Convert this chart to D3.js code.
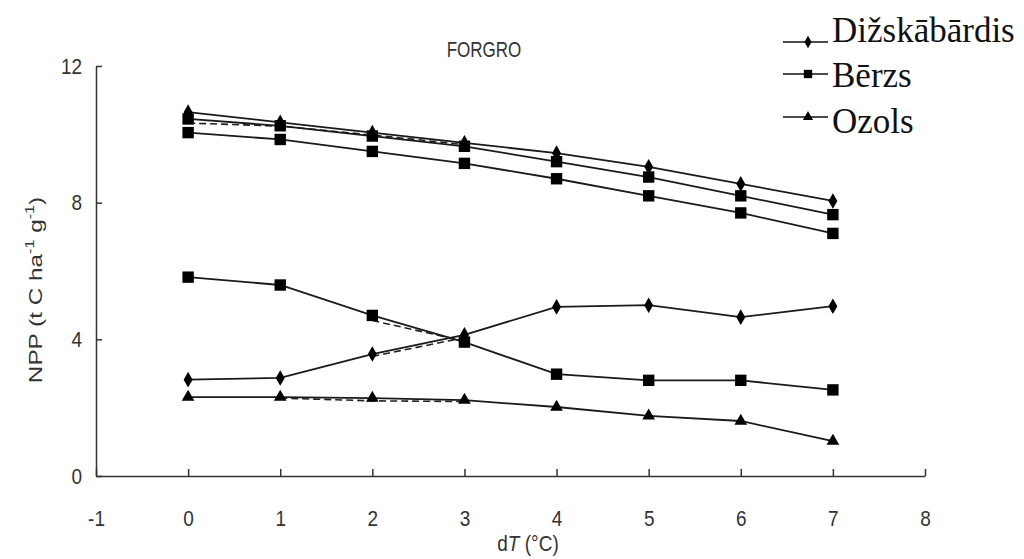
<!DOCTYPE html>
<html>
<head>
<meta charset="utf-8">
<script src="https://cdn.jsdelivr.net/npm/d3@7"></script>
<style>
  body { margin: 0; background: #fff; }
  svg { display: block; }
  .axis path, .axis line { stroke: #333; stroke-width: 1.5; }
  .axis text { font-family: "Liberation Sans", Arial, sans-serif; font-size: 19px; fill: #333; }
</style>
</head>
<body>
<div id="chart-container"></div>
<script>
// dT values (°C)
const dT = [0, 1, 2, 3, 4, 5, 6, 7];
const xTicks = [-1, 0, 1, 2, 3, 4, 5, 6, 7, 8];
const yTicks = [0, 4, 8, 12];

// series (NPP, t C ha-1 g-1)
const diskUpper = [10.65, 10.35, 10.05, 9.75, 9.45, 9.05, 8.55, 8.05];
const berzsUpperA = [10.45, 10.25, 9.95, 9.65, 9.2, 8.75, 8.2, 7.65];
const berzsUpperB = [10.05, 9.85, 9.5, 9.15, 8.7, 8.2, 7.7, 7.1];
const berzsLower = [5.82, 5.59, 4.7, 3.92, 2.98, 2.8, 2.8, 2.52];
const diskLower = [2.82, 2.87, 3.57, 4.13, 4.95, 5.0, 4.65, 4.97];
const ozols = [2.31, 2.31, 2.28, 2.22, 2.02, 1.76, 1.61, 1.02];

// faint dashed duplicates visible under some segments
const dashedTop = { x: [0, 1, 2, 3], y: [10.33, 10.24, 9.98, 9.7] };
const dashedBerzs = { x: [2, 3], y: [4.55, 3.95] };
const dashedDisk = { x: [2, 3], y: [3.5, 4.05] };
const dashedOzols = { x: [1, 2, 3], y: [2.28, 2.2, 2.18] };

const legendNames = ["Dižskābārdis", "Bērzs", "Ozols"];

const width = 1024, height = 559;
const svg = d3.select("#chart-container").append("svg")
  .attr("width", width).attr("height", height);

const x = d3.scaleLinear().domain([-1, 8]).range([96, 925]);
const y = d3.scaleLinear().domain([0, 12]).range([476, 66]);

// axes (labels a little stretched vertically, like the scanned original)
const xAxisG = svg.append("g").attr("class", "axis")
  .attr("transform", `translate(0, ${y(0)})`)
  .call(d3.axisBottom(x).tickValues(xTicks).tickFormat(d => String(d))
    .tickSizeInner(-7).tickSizeOuter(0).tickPadding(0));
xAxisG.selectAll(".tick text").attr("y", 0)
  .attr("transform", "translate(0, 34) scale(1, 1.2)");

const yAxisG = svg.append("g").attr("class", "axis")
  .attr("transform", `translate(${x(-1)}, 0)`)
  .call(d3.axisLeft(y).tickValues(yTicks).tickSizeInner(-6).tickSizeOuter(0).tickPadding(14));
yAxisG.selectAll(".tick text").attr("transform", "scale(1, 1.2)");

// title
svg.append("text").text("FORGRO")
  .attr("transform", "translate(484, 57) scale(1, 1.25)")
  .attr("text-anchor", "middle")
  .style("font-family", "Liberation Sans, Arial, sans-serif")
  .style("font-size", "17px").style("fill", "#333");

// x label
const xl = svg.append("text")
  .attr("transform", "translate(528, 551) scale(1, 1.15)")
  .attr("text-anchor", "middle")
  .style("font-family", "Liberation Sans, Arial, sans-serif")
  .style("font-size", "19px").style("fill", "#333");
xl.append("tspan").text("d");
xl.append("tspan").text("T").style("font-style", "italic");
xl.append("tspan").text(" (°C)");

// y label
const yl = svg.append("text")
  .attr("transform", `translate(42, 290) rotate(-90) scale(1.35, 1)`)
  .attr("text-anchor", "middle")
  .style("font-family", "Liberation Sans, Arial, sans-serif")
  .style("font-size", "18px").style("fill", "#333");
yl.append("tspan").text("NPP (t C ha");
yl.append("tspan").text("-1").attr("dy", -8).style("font-size", "12px");
yl.append("tspan").text(" g").attr("dy", 8);
yl.append("tspan").text("-1").attr("dy", -8).style("font-size", "12px");
yl.append("tspan").text(")").attr("dy", 8);

const line = d3.line().x(d => x(d[0])).y(d => y(d[1]));
const plot = svg.append("g");

function drawDashed(s) {
  plot.append("path")
    .datum(s.x.map((v, i) => [v, s.y[i]]))
    .attr("d", line)
    .attr("fill", "none").attr("stroke", "#222")
    .attr("stroke-width", 1.6).attr("stroke-dasharray", "7,4");
}
[dashedTop, dashedBerzs, dashedDisk, dashedOzols].forEach(drawDashed);

const symbols = {
  diamond: d3.symbol().type(d3.symbolDiamond).size(70),
  square: d3.symbol().type(d3.symbolSquare).size(130),
  triangle: d3.symbol().type(d3.symbolTriangle).size(70)
};

function drawSeries(values, shape) {
  const pts = dT.map((d, i) => [d, values[i]]);
  plot.append("path").datum(pts).attr("d", line)
    .attr("fill", "none").attr("stroke", "#1a1a1a").attr("stroke-width", 1.8);
  plot.selectAll(null).data(pts).enter().append("path")
    .attr("d", symbols[shape])
    .attr("transform", d => `translate(${x(d[0])}, ${y(d[1])})`)
    .attr("fill", "#000");
}

drawSeries(berzsUpperB, "square");
drawSeries(berzsUpperA, "square");
drawSeries(diskUpper, "diamond");
drawSeries(berzsLower, "square");
drawSeries(ozols, "triangle");
drawSeries(diskLower, "diamond");

// legend
const legendShapes = ["diamond", "square", "triangle"];
const legendLineY = [42, 74, 117];
const legendTextY = [42, 87, 133];
const legendSym = {
  diamond: d3.symbol().type(d3.symbolDiamond).size(45),
  square: d3.symbol().type(d3.symbolSquare).size(70),
  triangle: d3.symbol().type(d3.symbolTriangle).size(45)
};
const lg = svg.append("g");
legendNames.forEach((name, i) => {
  lg.append("line")
    .attr("x1", 783).attr("x2", 828)
    .attr("y1", legendLineY[i]).attr("y2", legendLineY[i])
    .attr("stroke", "#111").attr("stroke-width", 1.5);
  lg.append("path").attr("d", legendSym[legendShapes[i]])
    .attr("transform", `translate(808, ${legendLineY[i]})`)
    .attr("fill", "#000");
  lg.append("text").text(name)
    .attr("x", 832).attr("y", legendTextY[i])
    .style("font-family", "Liberation Serif, Times New Roman, serif")
    .style("font-size", "35px").style("fill", "#111");
});
</script>
</body>
</html>
